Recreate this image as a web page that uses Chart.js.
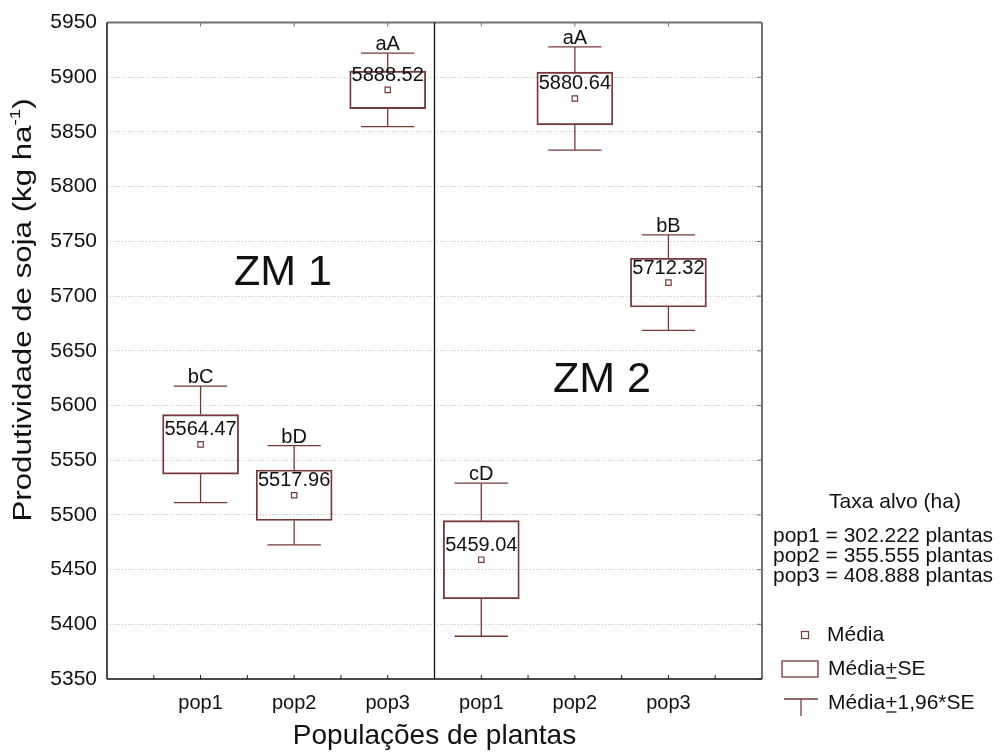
<!DOCTYPE html>
<html>
<head>
<meta charset="utf-8">
<script src="https://cdn.jsdelivr.net/npm/chart.js@4.4.0/dist/chart.umd.min.js"></script>
<style>
  html, body { margin: 0; padding: 0; background: #fff; }
  canvas { display: block; }
</style>
</head>
<body>
<canvas id="graficoSoja" width="1002" height="756"></canvas>
<script>
const categorias = ['pop1', 'pop2', 'pop3', 'pop1', 'pop2', 'pop3'];
const zonas = ['ZM 1', 'ZM 2'];
const medias = [5564.47, 5517.96, 5888.52, 5459.04, 5880.64, 5712.32];
const erros = [27.2, 23.1, 17.1, 35.7, 24.1, 22.3];
const letras = ['bC', 'bD', 'aA', 'cD', 'aA', 'bB'];
const taxas = ['pop1 = 302.222 plantas', 'pop2 = 355.555 plantas', 'pop3 = 408.888 plantas'];

const COR = '#763838';
const FONTE = '"Liberation Sans", Arial, sans-serif';

// caixa = média ± SE, haste = média ± 1,96*SE
const caixas = categorias.map((c, i) => ({ x: i + 1, y: [medias[i] - erros[i], medias[i] + erros[i]] }));
const pontos = categorias.map((c, i) => ({ x: i + 1, y: medias[i] }));

function linha(ctx, x1, y1, x2, y2) {
  ctx.beginPath();
  ctx.moveTo(x1, y1);
  ctx.lineTo(x2, y2);
  ctx.stroke();
}

function textoMais(ctx, partes, x, y) {
  let cx = x;
  partes.forEach((p, i) => {
    ctx.fillText(p, cx, y);
    const w = ctx.measureText(p).width;
    if (i === 1) {
      ctx.lineWidth = 1.3;
      ctx.strokeStyle = '#111';
      linha(ctx, cx + 1, y + 9, cx + w - 1, y + 9);
    }
    cx += w;
  });
}

const desenhos = {
  id: 'desenhos',
  afterDraw(chart) {
    const { ctx, chartArea: a, scales: { x, y } } = chart;
    const unidade = x.getPixelForValue(1) - x.getPixelForValue(0);
    ctx.save();

    // hastes
    ctx.strokeStyle = COR;
    ctx.lineWidth = 1.3;
    medias.forEach((m, i) => {
      const px = x.getPixelForValue(i + 1);
      const meia = unidade * 0.285;
      const topo = y.getPixelForValue(m + 1.96 * erros[i]);
      const base = y.getPixelForValue(m - 1.96 * erros[i]);
      linha(ctx, px, topo, px, y.getPixelForValue(m + erros[i]));
      linha(ctx, px, base, px, y.getPixelForValue(m - erros[i]));
      linha(ctx, px - meia, topo, px + meia, topo);
      linha(ctx, px - meia, base, px + meia, base);
    });

    // textos das médias e letras
    ctx.fillStyle = '#111';
    ctx.textAlign = 'center';
    ctx.textBaseline = 'alphabetic';
    ctx.font = '20px ' + FONTE;
    medias.forEach((m, i) => {
      const px = x.getPixelForValue(i + 1);
      ctx.fillText(m.toFixed(2), px, y.getPixelForValue(m) - 9);
      ctx.fillText(letras[i], px, y.getPixelForValue(m + 1.96 * erros[i]) - 3);
    });

    // zonas
    ctx.font = '43px ' + FONTE;
    ctx.textBaseline = 'middle';
    ctx.fillText(zonas[0], x.getPixelForValue(1.88), y.getPixelForValue(5721));
    ctx.fillText(zonas[1], x.getPixelForValue(5.29), y.getPixelForValue(5623));

    // moldura
    ctx.strokeStyle = '#707070';
    ctx.lineWidth = 2;
    linha(ctx, a.left, a.top, a.right, a.top);
    linha(ctx, a.right, a.top, a.right, a.bottom);
    ctx.lineWidth = 1;
    y.ticks.forEach(t => {
      const py = y.getPixelForValue(t.value);
      linha(ctx, a.right - 5, py, a.right, py);
    });
    x.ticks.forEach(t => {
      const px = x.getPixelForValue(t.value);
      linha(ctx, px, a.top, px, a.top + 4);
    });
    ctx.strokeStyle = '#222';
    for (let v = 0.5; v < 7; v += 0.5) {
      const px = x.getPixelForValue(v);
      linha(ctx, px, a.bottom - 4, px, a.bottom);
    }
    ctx.strokeStyle = '#111';
    ctx.lineWidth = 1.5;
    linha(ctx, a.left, a.top, a.left, a.bottom);
    linha(ctx, a.left, a.bottom, a.right, a.bottom);
    ctx.lineWidth = 1.3;
    const div = x.getPixelForValue(3.5);
    linha(ctx, div, a.top, div, a.bottom);

    // título do eixo y
    ctx.save();
    ctx.translate(24, 310);
    ctx.rotate(-Math.PI / 2);
    ctx.scale(1.25, 1);
    ctx.fillStyle = '#111';
    ctx.textBaseline = 'middle';
    ctx.textAlign = 'left';
    const partes = ['Produtividade de soja (kg ha', '-1', ')'];
    ctx.font = '25px ' + FONTE;
    const w0 = ctx.measureText(partes[0]).width;
    ctx.font = '15px ' + FONTE;
    const w1 = ctx.measureText(partes[1]).width;
    ctx.font = '25px ' + FONTE;
    const w2 = ctx.measureText(partes[2]).width;
    let cx = -(w0 + w1 + w2) / 2;
    ctx.fillText(partes[0], cx, 0);
    cx += w0;
    ctx.font = '15px ' + FONTE;
    ctx.fillText(partes[1], cx, -8);
    cx += w1;
    ctx.font = '25px ' + FONTE;
    ctx.fillText(partes[2], cx, 0);
    ctx.restore();

    // legenda
    ctx.fillStyle = '#111';
    ctx.font = '21px ' + FONTE;
    ctx.textBaseline = 'middle';
    ctx.textAlign = 'center';
    ctx.fillText('Taxa alvo (ha)', 895, 502);
    ctx.textAlign = 'left';
    taxas.forEach((t, i) => ctx.fillText(t, 773, 536 + i * 20));

    ctx.strokeStyle = COR;
    ctx.lineWidth = 1.2;
    ctx.fillStyle = '#fff';
    ctx.fillRect(801.5, 631.5, 7, 7);
    ctx.strokeRect(801.5, 631.5, 7, 7);
    ctx.lineWidth = 1.3;
    ctx.strokeRect(782, 661, 36, 16);
    linha(ctx, 784, 699, 818, 699);
    linha(ctx, 801, 699, 801, 716);

    ctx.fillStyle = '#111';
    ctx.fillText('Média', 827, 635);
    textoMais(ctx, ['Média', '+', 'SE'], 828, 669);
    textoMais(ctx, ['Média', '+', '1,96*SE'], 828, 703);

    ctx.restore();
  }
};

new Chart(document.getElementById('graficoSoja').getContext('2d'), {
  type: 'bar',
  data: {
    datasets: [
      {
        type: 'bar',
        data: caixas,
        backgroundColor: 'rgba(255,255,255,0)',
        borderColor: COR,
        borderWidth: 1.2,
        borderSkipped: false,
        barThickness: 76
      },
      {
        type: 'scatter',
        data: pontos,
        pointStyle: 'rect',
        pointRadius: 3.8,
        borderColor: COR,
        backgroundColor: '#fff',
        borderWidth: 1.2
      }
    ]
  },
  options: {
    responsive: false,
    animation: false,
    layout: { padding: { top: 20, right: 240, left: 0, bottom: 0 } },
    plugins: {
      legend: { display: false },
      tooltip: { enabled: false }
    },
    scales: {
      x: {
        type: 'linear',
        min: 0,
        max: 7,
        offset: false,
        afterFit: s => { s.height = 77; },
        afterBuildTicks: s => { s.ticks = categorias.map((c, i) => ({ value: i + 1 })); },
        ticks: {
          autoSkip: false,
          maxRotation: 0,
          padding: 4,
          color: '#111',
          font: { family: FONTE, size: 20 },
          callback: v => categorias[v - 1] || ''
        },
        grid: { display: false, offset: false },
        border: { display: false },
        title: {
          display: true,
          text: 'Populações de plantas',
          color: '#111',
          font: { family: FONTE, size: 28 },
          padding: { top: 0, bottom: 3 }
        }
      },
      y: {
        min: 5350,
        max: 5950,
        afterFit: s => { s.width = 107; },
        ticks: {
          stepSize: 50,
          padding: 10,
          color: '#111',
          font: { family: FONTE, size: 21 },
          callback: v => String(v)
        },
        grid: { color: '#c4c4c4', drawTicks: false, lineWidth: 1 },
        border: { display: false, dash: [1, 2] }
      }
    }
  },
  plugins: [desenhos]
});
</script>
</body>
</html>
